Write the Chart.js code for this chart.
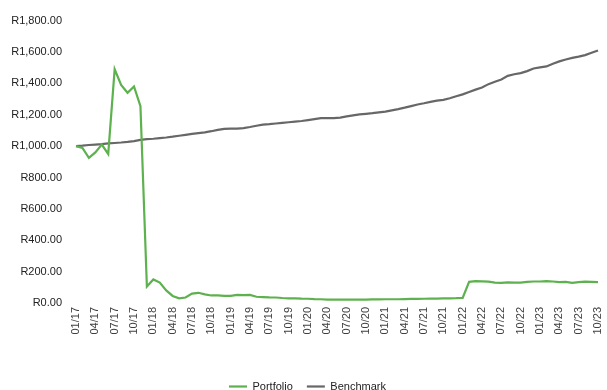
<!DOCTYPE html>
<html>
<head>
<meta charset="utf-8">
<script src="https://cdn.jsdelivr.net/npm/chart.js@4/dist/chart.umd.min.js"></script>
<style>
  html, body { margin: 0; padding: 0; background: #fff; }
  #wrap { width: 607px; height: 390px; position: relative; }
</style>
</head>
<body>
<div id="wrap"><canvas id="perfChart"></canvas></div>
<script>
// ============================================
// DATA
// ============================================
const months = [];
for (let y = 17; y <= 23; y++) {
    for (let m = 1; m <= 12; m++) {
        if (y === 23 && m > 10) break;
        months.push(String(m).padStart(2, '0') + '/' + y);
    }
}

const portfolio = [
    1000, 988, 925, 960, 1010, 950, 1490, 1390, 1340, 1380, 1255, 105,
    150, 130, 80, 45, 30, 35, 60, 65, 55, 48, 48, 45,
    45, 52, 50, 52, 40, 38, 36, 35, 32, 30, 30, 28,
    27, 25, 24, 22, 22, 22, 22, 22, 22, 22, 23, 23,
    24, 24, 24, 25, 26, 26, 27, 28, 28, 29, 30, 31,
    33, 135, 139, 138, 136, 130, 128, 131, 130, 130, 135, 137,
    137, 140, 137, 133, 135, 128, 133, 136, 135, 133
];

const benchmark = [
    1000, 1003, 1007, 1010, 1013, 1017, 1020, 1023, 1027, 1032, 1040, 1044,
    1047, 1051, 1055, 1060, 1066, 1072, 1078, 1083, 1088, 1095, 1103, 1110,
    1111, 1112, 1115, 1122, 1130, 1137, 1140, 1144, 1148, 1152, 1156, 1160,
    1166, 1172, 1178, 1179, 1178, 1182, 1190, 1196, 1202, 1206, 1210, 1215,
    1220, 1228, 1236, 1245, 1255, 1265, 1273, 1282, 1290, 1295, 1305, 1318,
    1330, 1345, 1360, 1373, 1395, 1410, 1425, 1448, 1458, 1465, 1478, 1495,
    1502, 1508, 1525, 1540, 1552, 1562, 1570, 1580, 1595, 1610
];

const yTicks = [0, 200, 400, 600, 800, 1000, 1200, 1400, 1600, 1800];

// ============================================
// CHART
// ============================================
Chart.defaults.font.family = '"Liberation Sans", Arial, sans-serif';
Chart.defaults.font.size = 11;
Chart.defaults.color = '#404040';
Chart.defaults.animation = false;

function rand(v) {
    return 'R' + v.toLocaleString('en-US', { minimumFractionDigits: 2, maximumFractionDigits: 2 });
}

const ctx = document.getElementById('perfChart');
new Chart(ctx, {
    type: 'line',
    data: {
        labels: months,
        datasets: [{
            label: 'Portfolio',
            data: portfolio,
            borderColor: '#5DB14E',
            backgroundColor: '#5DB14E',
            borderWidth: 2.2,
            pointRadius: 0,
            tension: 0
        }, {
            label: 'Benchmark',
            data: benchmark,
            borderColor: '#676767',
            backgroundColor: '#676767',
            borderWidth: 2.2,
            pointRadius: 0,
            tension: 0
        }]
    },
    options: {
        responsive: true,
        maintainAspectRatio: false,
        layout: {
            padding: { top: 11, right: 0, bottom: -12, left: 8 }
        },
        plugins: {
            legend: {
                position: 'bottom',
                labels: {
                    usePointStyle: true,
                    pointStyle: 'line',
                    pointStyleWidth: 18,
                    boxWidth: 18,
                    boxHeight: 11,
                    padding: 14,
                    color: '#222'
                }
            },
            tooltip: { enabled: false }
        },
        scales: {
            x: {
                grid: { display: false, drawTicks: false },
                border: { display: false },
                afterFit: function(scale) {
                    scale.height = 64;
                    scale.paddingLeft = 0;
                    scale.paddingRight = 9;
                },
                ticks: {
                    autoSkip: false,
                    maxRotation: 90,
                    minRotation: 90,
                    padding: 4,
                    color: '#404040',
                    callback: function(value, index) {
                        return index % 3 === 0 ? months[index] : null;
                    }
                }
            },
            y: {
                min: 0,
                max: 1800,
                grid: { display: false, drawTicks: false },
                border: { display: false },
                afterBuildTicks: function(scale) {
                    scale.ticks = yTicks.map(v => ({ value: v }));
                },
                afterFit: function(scale) { scale.width = 68; },
                ticks: {
                    padding: 14,
                    color: '#222',
                    callback: function(value) { return rand(value); }
                }
            }
        }
    }
});
</script>
</body>
</html>
